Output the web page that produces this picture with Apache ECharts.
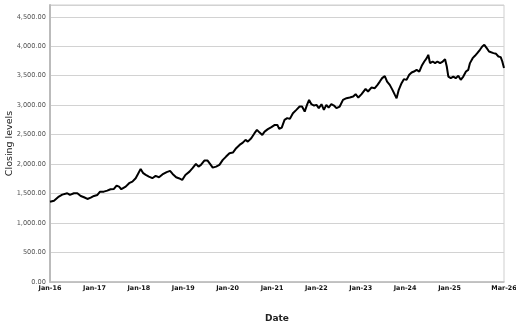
<!DOCTYPE html>
<html><head><meta charset="utf-8">
<script src="https://cdn.jsdelivr.net/npm/echarts@6/dist/echarts.min.js"></script>
<style>html,body{margin:0;padding:0;background:#fff}#c{width:516px;height:328px}</style>
</head><body><div id="c"></div>
<script>
const dates = ['2016-01-01','2016-02-03','2016-03-14','2016-04-11','2016-05-22','2016-06-13','2016-07-16','2016-08-13','2016-09-10','2016-10-07','2016-11-04','2016-12-01','2016-12-28',
'2017-01-25','2017-02-16','2017-03-19','2017-04-16','2017-05-13','2017-06-10','2017-07-02','2017-07-22','2017-08-10','2017-09-15','2017-10-13','2017-11-09','2017-12-06','2017-12-25',
'2018-01-16','2018-02-06','2018-02-27','2018-03-25','2018-04-22','2018-05-19','2018-06-16','2018-07-14','2018-08-18','2018-09-15','2018-10-06','2018-11-04','2018-11-25','2018-12-24',
'2019-01-19','2019-02-22','2019-03-19','2019-04-16','2019-05-07','2019-05-27','2019-06-24','2019-07-21','2019-08-10','2019-09-01','2019-09-29','2019-10-26','2019-11-23','2019-12-20',
'2020-01-17','2020-02-14','2020-03-12','2020-04-09','2020-05-06','2020-05-28','2020-06-16','2020-07-14','2020-08-10','2020-08-30','2020-09-21','2020-10-13','2020-11-01','2020-11-28','2020-12-27',
'2021-01-24','2021-02-14','2021-03-01','2021-03-22','2021-04-14','2021-05-06','2021-05-28','2021-06-22','2021-07-20','2021-08-16','2021-09-05','2021-09-27','2021-10-16','2021-11-02','2021-11-21','2021-12-13',
'2022-01-02','2022-01-21','2022-02-12','2022-03-04','2022-03-24','2022-04-12','2022-05-04','2022-05-26','2022-06-15','2022-07-12','2022-08-08','2022-09-06','2022-10-03','2022-10-31','2022-11-20','2022-12-12',
'2023-01-08','2023-02-10','2023-03-02','2023-03-30','2023-04-27','2023-05-19','2023-06-07','2023-06-26','2023-07-18','2023-08-06','2023-08-28','2023-09-19','2023-10-09','2023-10-23','2023-11-10','2023-12-03','2023-12-22',
'2024-01-13','2024-02-04','2024-02-24','2024-03-14','2024-04-05','2024-04-27','2024-05-17','2024-06-07','2024-06-27','2024-07-10','2024-07-24','2024-08-15','2024-09-04','2024-09-23','2024-10-15','2024-11-06','2024-11-25','2024-12-09','2024-12-22',
'2025-01-11','2025-02-01','2025-02-21','2025-03-14','2025-04-03','2025-04-24','2025-05-16','2025-06-04','2025-06-18','2025-07-10','2025-07-29','2025-08-17','2025-09-08','2025-09-27','2025-10-14','2025-11-03','2025-11-22','2025-12-08','2025-12-28',
'2026-01-19','2026-02-07','2026-02-26','2026-03-11','2026-03-25'];
const closing = [1363,1380,1449,1482,1506,1477,1506,1506,1460,1438,1409,1431,1460,
1477,1533,1533,1550,1574,1579,1635,1618,1574,1618,1676,1703,1761,1834,
1919,1846,1817,1788,1761,1800,1778,1825,1865,1885,1834,1778,1761,1732,
1817,1873,1931,2004,1958,1987,2060,2060,2004,1941,1958,1987,2072,2128,
2185,2196,2270,2326,2365,2411,2382,2440,2525,2581,2535,2496,2552,2593,2627,
2666,2665,2598,2620,2751,2780,2768,2864,2921,2977,2977,2892,3005,3090,3017,2994,
3005,2949,3017,2921,3005,2960,3017,2994,2949,2977,3090,3119,3130,3147,3187,3130,
3187,3277,3232,3299,3289,3345,3401,3459,3493,3401,3345,3260,3175,3119,3260,3374,3442,
3430,3515,3554,3571,3600,3571,3668,3741,3798,3855,3714,3741,3714,3741,3714,3741,3781,3656,3486,
3459,3486,3459,3498,3430,3486,3571,3600,3714,3798,3838,3883,3940,3996,4024,3968,3911,3928,3883,
3872,3826,3815,3741,3629];
const xTickDates = ['2016-01-01','2017-01-01','2018-01-01','2019-01-01','2020-01-01','2021-01-01','2022-01-01','2023-01-01','2024-01-01','2025-01-01','2026-03-25'];
const xTickLabels = ['Jan-16','Jan-17','Jan-18','Jan-19','Jan-20','Jan-21','Jan-22','Jan-23','Jan-24','Jan-25','Mar-26'];
const yTicks = [0,500,1000,1500,2000,2500,3000,3500,4000,4500];
const yTickLabels = ['0.00','500.00','1,000.00','1,500.00','2,000.00','2,500.00','3,000.00','3,500.00','4,000.00','4,500.00'];

function ts(s){const p=s.split('-').map(Number);return new Date(p[0],p[1]-1,p[2]).getTime();}
const xTickTs = xTickDates.map(ts);
const seriesData = dates.map((d,i)=>[ts(d), closing[i]]);

const chart = echarts.init(document.getElementById('c'), null, {renderer:'canvas'});
chart.setOption({
  animation:false,
  backgroundColor:'#fff',
  grid:{left:50,right:12,top:5,bottom:46,containLabel:false,outerBoundsMode:'none',show:true,borderColor:'#cfcfcf',borderWidth:1,backgroundColor:'transparent'},
  xAxis:{
    type:'value',
    min:xTickTs[0], max:xTickTs[xTickTs.length-1],
    name:'Date', nameLocation:'middle', nameGap:32, nameMoveOverlap:false,
    nameTextStyle:{fontFamily:'DejaVu Sans',fontSize:9,fontWeight:'bold',color:'#222'},
    axisLine:{show:true,lineStyle:{color:'#bbb',width:1.5}},
    axisTick:{show:false},
    splitLine:{show:false},
    axisLabel:{
      customValues:xTickTs,
      margin:3,
      fontFamily:'DejaVu Sans',fontSize:6.4,fontWeight:'bold',color:'#111',
      formatter:function(v){const i=xTickTs.indexOf(v);return i>=0?xTickLabels[i]:'';}
    }
  },
  yAxis:{
    type:'value', min:0, max:4700, interval:500,
    name:'Closing levels', nameLocation:'middle', nameGap:35, nameRotate:90, nameMoveOverlap:false,
    nameTextStyle:{fontFamily:'DejaVu Sans',fontSize:9.5,color:'#222'},
    axisLine:{show:true,lineStyle:{color:'#bbb',width:2}},
    axisTick:{show:false},
    splitLine:{show:true,lineStyle:{color:'#d2d2d2',width:1}},
    axisLabel:{
      margin:4,
      fontFamily:'DejaVu Sans',fontSize:6.6,color:'#555',
      formatter:function(v){const i=yTicks.indexOf(v);return i>=0?yTickLabels[i]:'';}
    }
  },
  series:[{
    type:'line', data:seriesData, showSymbol:false, symbol:'none',
    lineStyle:{color:'#000',width:2}, clip:false
  }]
});
</script></body></html>
